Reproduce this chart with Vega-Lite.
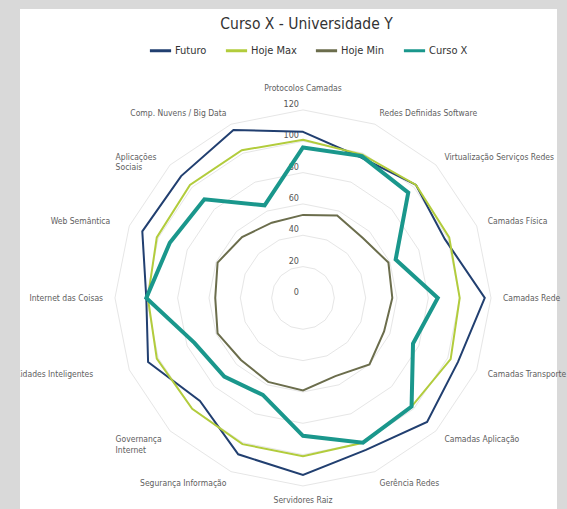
{
  "$schema": "https://vega.github.io/schema/vega-lite/v6.json",
  "width": 537,
  "height": 500,
  "autosize": {"type": "none"},
  "padding": {"left": 20, "top": 9, "right": 10, "bottom": 0},
  "background": "#d9d9d9",
  "config": {"view": {"fill": "#ffffff", "stroke": null}, "font": "DejaVu Sans Condensed, Liberation Sans, sans-serif"},
  "title": {"text": "Curso X - Universidade Y", "fontSize": 15.5, "fontWeight": "normal", "color": "#333333", "offset": -23, "frame": "group", "dx": 18, "font": "DejaVu Sans Condensed, Liberation Sans, sans-serif"},
  "datasets": {
    "radar": [
      {"k": 0, "cat": "Protocolos Camadas", "Futuro": 106, "Hoje Max": 101, "Hoje Min": 53, "Curso X": 96},
      {"k": 1, "cat": "Redes Definidas Software", "Futuro": 97, "Hoje Max": 99, "Hoje Min": 57, "Curso X": 98},
      {"k": 2, "cat": "Virtualização Serviços Redes", "Futuro": 102, "Hoje Max": 102, "Hoje Min": 54, "Curso X": 95},
      {"k": 3, "cat": "Camadas Física", "Futuro": 98, "Hoje Max": 101, "Hoje Min": 59, "Curso X": 64},
      {"k": 4, "cat": "Camadas Rede", "Futuro": 116, "Hoje Max": 100, "Hoje Min": 57, "Curso X": 86},
      {"k": 5, "cat": "Camadas Transporte", "Futuro": 107, "Hoje Max": 102, "Hoje Min": 56, "Curso X": 76},
      {"k": 6, "cat": "Camadas Aplicação", "Futuro": 112, "Hoje Max": 98, "Hoje Min": 60, "Curso X": 98},
      {"k": 7, "cat": "Gerência Redes", "Futuro": 105, "Hoje Max": 100, "Hoje Min": 54, "Curso X": 100},
      {"k": 8, "cat": "Servidores Raiz", "Futuro": 113, "Hoje Max": 101, "Hoje Min": 59, "Curso X": 88},
      {"k": 9, "cat": "Segurança Informação", "Futuro": 108, "Hoje Max": 101, "Hoje Min": 58, "Curso X": 67},
      {"k": 10, "cat": "Governança\nInternet", "Futuro": 93, "Hoje Max": 100, "Hoje Min": 56, "Curso X": 71},
      {"k": 11, "cat": "Cidades Inteligentes", "Futuro": 107, "Hoje Max": 101, "Hoje Min": 59, "Curso X": 75},
      {"k": 12, "cat": "Internet das Coisas", "Futuro": 100, "Hoje Max": 99, "Hoje Min": 56, "Curso X": 100},
      {"k": 13, "cat": "Web Semântica", "Futuro": 111, "Hoje Max": 101, "Hoje Min": 59, "Curso X": 92},
      {"k": 14, "cat": "Aplicações\nSociais", "Futuro": 110, "Hoje Max": 102, "Hoje Min": 55, "Curso X": 89},
      {"k": 15, "cat": "Comp. Nuvens / Big Data", "Futuro": 116, "Hoje Max": 102, "Hoje Min": 52, "Curso X": 64}
    ],
    "grid": [
      {"g": 20, "k": [0,1,2,3,4,5,6,7,8,9,10,11,12,13,14,15]},
      {"g": 40, "k": [0,1,2,3,4,5,6,7,8,9,10,11,12,13,14,15]},
      {"g": 60, "k": [0,1,2,3,4,5,6,7,8,9,10,11,12,13,14,15]},
      {"g": 80, "k": [0,1,2,3,4,5,6,7,8,9,10,11,12,13,14,15]},
      {"g": 100, "k": [0,1,2,3,4,5,6,7,8,9,10,11,12,13,14,15]},
      {"g": 120, "k": [0,1,2,3,4,5,6,7,8,9,10,11,12,13,14,15]}
    ],
    "ticks": [{"v": 0}, {"v": 20}, {"v": 40}, {"v": 60}, {"v": 80}, {"v": 100}, {"v": 120}]
  },
  "layer": [
    {
      "data": {"name": "grid"},
      "transform": [
        {"flatten": ["k"]},
        {"calculate": "datum.g*sin(datum.k*PI/8)", "as": "px"},
        {"calculate": "datum.g*cos(datum.k*PI/8)", "as": "py"}
      ],
      "mark": {"type": "line", "interpolate": "linear-closed", "stroke": "#e6e6e6", "strokeWidth": 1},
      "encoding": {
        "x": {"field": "px", "type": "quantitative", "scale": {"domain": [-180.6, 162.1], "nice": false, "zero": false}, "axis": null},
        "y": {"field": "py", "type": "quantitative", "scale": {"domain": [-134.7, 184.4], "nice": false, "zero": false}, "axis": null},
        "detail": {"field": "g"},
        "order": {"field": "k"}
      }
    },
    {
      "data": {"name": "ticks"},
      "mark": {"type": "text", "align": "right", "baseline": "middle", "dx": -4, "dy": -6, "fontSize": 9, "color": "#555555"},
      "encoding": {
        "x": {"datum": 0, "type": "quantitative"},
        "y": {"field": "v", "type": "quantitative"},
        "text": {"field": "v", "type": "quantitative"}
      }
    },
    {
      "data": {"name": "radar"},
      "transform": [
        {"filter": "datum.k >= 1 && datum.k <= 7"},
        {"calculate": "127.6*sin(datum.k*PI/8)", "as": "lx"},
        {"calculate": "127.6*cos(datum.k*PI/8)", "as": "ly"}
      ],
      "mark": {"type": "text", "align": "left", "baseline": "middle", "fontSize": 8.5, "color": "#606060"},
      "encoding": {
        "x": {"field": "lx", "type": "quantitative"},
        "y": {"field": "ly", "type": "quantitative"},
        "text": {"field": "cat"}
      }
    },
    {
      "data": {"name": "radar"},
      "transform": [
        {"filter": "datum.k == 9 || datum.k == 12 || datum.k == 15"},
        {"calculate": "127.6*sin(datum.k*PI/8)", "as": "lx"},
        {"calculate": "127.6*cos(datum.k*PI/8)", "as": "ly"}
      ],
      "mark": {"type": "text", "align": "right", "baseline": "middle", "fontSize": 8.5, "color": "#606060", "clip": true},
      "encoding": {
        "x": {"field": "lx", "type": "quantitative"},
        "y": {"field": "ly", "type": "quantitative"},
        "text": {"field": "cat"}
      }
    },
    {
      "data": {"name": "radar"},
      "transform": [
        {"filter": "datum.k == 11"},
        {"calculate": "127.6*sin(datum.k*PI/8)", "as": "lx"},
        {"calculate": "127.6*cos(datum.k*PI/8)", "as": "ly"}
      ],
      "mark": {"type": "text", "align": "right", "baseline": "middle", "dx": -25, "fontSize": 8.5, "color": "#606060", "clip": true},
      "encoding": {
        "x": {"field": "lx", "type": "quantitative"},
        "y": {"field": "ly", "type": "quantitative"},
        "text": {"field": "cat"}
      }
    },
    {
      "data": {"name": "radar"},
      "transform": [
        {"filter": "datum.k == 13"},
        {"calculate": "127.6*sin(datum.k*PI/8)", "as": "lx"},
        {"calculate": "127.6*cos(datum.k*PI/8)", "as": "ly"}
      ],
      "mark": {"type": "text", "align": "right", "baseline": "middle", "dx": -8, "fontSize": 8.5, "color": "#606060", "clip": true},
      "encoding": {
        "x": {"field": "lx", "type": "quantitative"},
        "y": {"field": "ly", "type": "quantitative"},
        "text": {"field": "cat"}
      }
    },
    {
      "data": {"name": "radar"},
      "transform": [
        {"filter": "datum.k == 10 || datum.k == 14"},
        {"calculate": "127.6*sin(datum.k*PI/8)", "as": "lx"},
        {"calculate": "127.6*cos(datum.k*PI/8)", "as": "ly"}
      ],
      "mark": {"type": "text", "align": "left", "baseline": "middle", "dx": -46, "lineBreak": "\n", "fontSize": 8.5, "color": "#606060"},
      "encoding": {
        "x": {"field": "lx", "type": "quantitative"},
        "y": {"field": "ly", "type": "quantitative"},
        "text": {"field": "cat"}
      }
    },
    {
      "data": {"name": "radar"},
      "transform": [
        {"filter": "datum.k == 0"},
        {"calculate": "127.6*sin(datum.k*PI/8)", "as": "lx"},
        {"calculate": "127.6*cos(datum.k*PI/8)", "as": "ly"}
      ],
      "mark": {"type": "text", "align": "center", "baseline": "middle", "dy": -10, "fontSize": 8.5, "color": "#606060"},
      "encoding": {
        "x": {"field": "lx", "type": "quantitative"},
        "y": {"field": "ly", "type": "quantitative"},
        "text": {"field": "cat"}
      }
    },
    {
      "data": {"name": "radar"},
      "transform": [
        {"filter": "datum.k == 8"},
        {"calculate": "127.6*sin(datum.k*PI/8)", "as": "lx"},
        {"calculate": "127.6*cos(datum.k*PI/8)", "as": "ly"}
      ],
      "mark": {"type": "text", "align": "center", "baseline": "middle", "dy": 2, "fontSize": 8.5, "color": "#606060"},
      "encoding": {
        "x": {"field": "lx", "type": "quantitative"},
        "y": {"field": "ly", "type": "quantitative"},
        "text": {"field": "cat"}
      }
    },
    {
      "data": {"name": "radar"},
      "transform": [
        {"fold": ["Futuro", "Hoje Max", "Hoje Min", "Curso X"], "as": ["series", "v"]},
        {"calculate": "datum.v*sin(datum.k*PI/8)", "as": "px"},
        {"calculate": "datum.v*cos(datum.k*PI/8)", "as": "py"}
      ],
      "mark": {"type": "line", "interpolate": "linear-closed"},
      "encoding": {
        "x": {"field": "px", "type": "quantitative"},
        "y": {"field": "py", "type": "quantitative"},
        "order": {"field": "k"},
        "color": {
          "field": "series",
          "type": "nominal",
          "scale": {"domain": ["Futuro", "Hoje Max", "Hoje Min", "Curso X"], "range": ["#213f70", "#b2cc3c", "#6b6d4c", "#1a978c"]},
          "legend": {"orient": "none", "legendX": 128, "legendY": 29, "direction": "horizontal", "title": null, "symbolType": "stroke", "symbolStrokeWidth": 3, "symbolSize": 450, "labelFontSize": 11, "labelFont": "DejaVu Sans Condensed, Liberation Sans, sans-serif", "labelColor": "#333333", "columnPadding": 12, "labelOffset": 2}
        },
        "strokeWidth": {"condition": {"test": "datum.series === 'Curso X'", "value": 4}, "value": 2}
      }
    }
  ]
}
